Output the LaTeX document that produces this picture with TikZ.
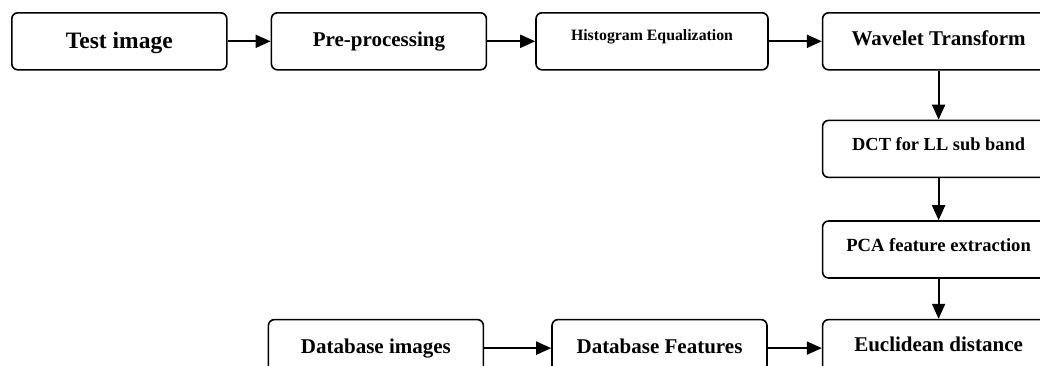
\documentclass[tikz,border=0pt]{standalone}
\usepackage{fontspec}
\setmainfont{Liberation Serif}
\usetikzlibrary{positioning}
\usetikzlibrary{arrows.meta}

\begin{document}
\begin{tikzpicture}[ x = 1pt
                   , y = -1pt
                   , line width = 2pt
                   , >={Triangle[width=13pt, length=15pt]}
                   , every node/.style = { rectangle
                                         , rounded corners = 6pt
                                         , draw = black
                                         , line width = 1.6pt
                                         , align = center
                                         , inner sep = 0pt
                                         , font = \bfseries }
                   ]

  \useasboundingbox (0,0) rectangle (1040,365);
  \clip (0,0) rectangle (1040,365);

  %%
  %% Nodes
  %%
  \tikzset{ stage/.style={minimum width=215pt}
          , wide/.style={minimum width=232pt}
          , txt/.style 2 args={text height=#1pt, text depth=#2pt}
          , fs/.style={font=\bfseries\fontsize{#1}{#1}\selectfont}
          }

  \node (test) [stage, txt={36}{21}, fs=23.5, anchor=north west] at (11,12) {Test image};
  \node (pre) [stage, txt={34}{23}, fs=21, right = 43pt of test] {Pre-processing};
  \node (histeq) [wide, txt={28}{29}, fs=15.8, right = 48pt of pre] {Histogram Equalization};
  \node (wavelet) [wide, txt={33}{24}, fs=21, right = 53pt of histeq] {Wavelet Transform};
  \node (dct) [wide, txt={30}{27}, fs=18.4, below = 49pt of wavelet] {DCT for LL sub band};
  \node (pca) [wide, txt={30}{27}, fs=18.6, below = 42pt of dct] {PCA feature extraction};
  \node (euclid) [wide, txt={32}{25}, fs=21, below = 40pt of pca] {Euclidean distance};
  \node (dbfeat) [stage, txt={34}{23}, fs=21, left = 54pt of euclid] {Database Features};
  \node (dbimg) [stage, txt={34}{23}, fs=21, left = 67pt of dbfeat] {Database images};

  %%
  %% Arrows
  %%
  % Top row.
  \draw[->] (test) -- (pre);
  \draw[->] (pre) -- (histeq);
  \draw[->] (histeq) -- (wavelet);
  % Right column.
  \draw[->] (wavelet) -- (dct);
  \draw[->] (dct) -- (pca);
  \draw[->] (pca) -- (euclid);
  % Bottom row.
  \draw[->] (dbimg) -- (dbfeat);
  \draw[->] (dbfeat) -- (euclid);
\end{tikzpicture}
\end{document}
